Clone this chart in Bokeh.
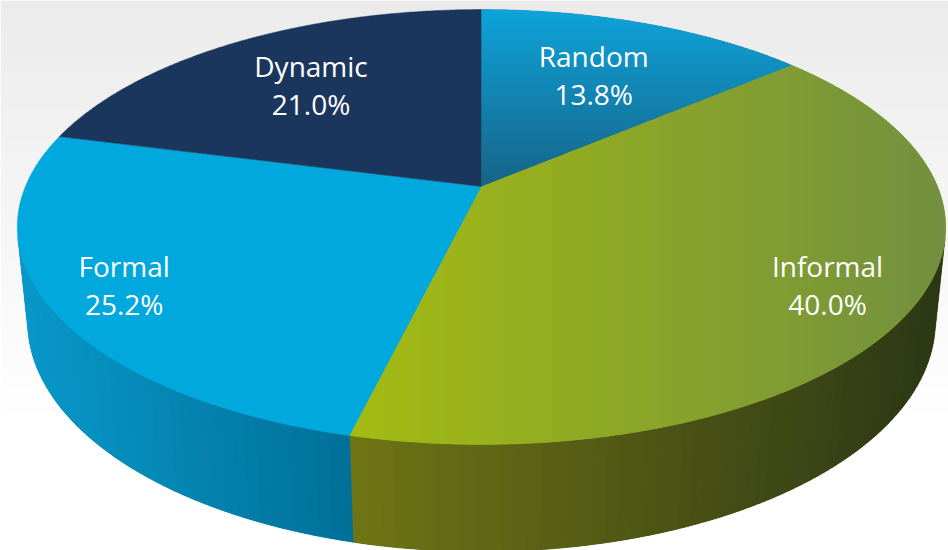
import numpy as np
from bokeh.plotting import figure
from bokeh.models import Range1d, ColumnDataSource
from bokeh.embed import file_html
from bokeh.resources import INLINE
from bokeh.core.properties import value

# ---------------- data ----------------
categories = ["Random", "Informal", "Formal", "Dynamic"]
shares = [13.8, 40.0, 25.2, 21.0]
pct_labels = ["13.8%", "40.0%", "25.2%", "21.0%"]

# ---------------- style ----------------
top_colors = {  # (start, end, direction) of each slice's top face
    "Random": ("#0ea3da", "#176487", "y"),
    "Informal": ("#a4bb12", "#72903f", "x"),
    "Formal": ("#00a8dd", "#00a8dd", None),
    "Dynamic": ("#1b365d", "#1b365d", None),
}
side_colors = {
    "Random": ("#0b86b4", "#0b5f82"),
    "Informal": ("#6f7414", "#2c3716"),
    "Formal": ("#0898ca", "#006f97"),
    "Dynamic": ("#152b4a", "#10223a"),
}
label_radius = [0.65, 0.82, 0.84, 0.67]

W, H = 948, 550
CX, CY = 481.0, 186.0
FOCX, FOCY, DIST, TILT, THICK = 2180.0, 2210.0, 4.78, np.radians(27.0), 0.231
S, C = np.sin(TILT), np.cos(TILT)


def proj(theta, r=1.0, z=0.0):
    X = r * np.sin(theta)
    Y = r * np.cos(theta)
    dy = Y + DIST * C
    dz = z - DIST * S
    depth = dy * C - dz * S
    up = dy * S + dz * C
    return CX + FOCX * X / depth, CY - FOCY * up / depth


def hex2rgb(h):
    h = h.lstrip("#")
    return np.array([int(h[i:i + 2], 16) for i in (0, 2, 4)], dtype=float)


def lerp(c1, c2, t):
    t = min(max(t, 0.0), 1.0)
    a, b = hex2rgb(c1), hex2rgb(c2)
    v = a + (b - a) * t
    return "#%02x%02x%02x" % tuple(int(round(x)) for x in v)


def clip_half(poly, axis, bound, keep_greater):
    out = []
    n = len(poly)
    for i in range(n):
        a, b = poly[i], poly[(i + 1) % n]
        ina = a[axis] >= bound if keep_greater else a[axis] <= bound
        inb = b[axis] >= bound if keep_greater else b[axis] <= bound
        if ina:
            out.append(a)
        if ina != inb:
            t = (bound - a[axis]) / (b[axis] - a[axis])
            out.append((a[0] + t * (b[0] - a[0]), a[1] + t * (b[1] - a[1])))
    return out


p = figure(width=W, height=H, x_range=Range1d(0, W), y_range=Range1d(H, 0),
           output_backend="svg", toolbar_location=None, min_border=0,
           x_axis_location=None, y_axis_location=None)
p.grid.visible = False
p.outline_line_color = None
p.background_fill_color = "#ffffff"
p.border_fill_color = "#ffffff"

# background soft grey fade
bg_top, bg_bot, bg_cols = [], [], []
nb = 40
for i in range(nb):
    y0 = H * i / nb
    y1 = H * (i + 1) / nb
    bg_top.append(y0)
    bg_bot.append(y1 + 0.5)
    bg_cols.append(lerp("#ebebeb", "#ffffff", (y0 + y1) / 2 / 420))
p.quad(left=0, right=W, top=bg_top, bottom=bg_bot, fill_color=bg_cols, line_color=None)

# slice angles (clockwise from 12 o'clock)
total = float(sum(shares))
bounds = np.concatenate([[0.0], np.cumsum(shares) / total * 2 * np.pi])

# ---------------- side walls ----------------
base_xs, base_ys, base_cols = [], [], []
wall_xs, wall_ys, wall_cols = [], [], []
limit = np.arccos(-1.0 / (DIST * C))  # visible wall: theta in (limit, 2pi - limit)
for k, cat in enumerate(categories):
    a0 = max(bounds[k], limit)
    a1 = min(bounds[k + 1], 2 * np.pi - limit)
    if a1 <= a0:
        continue
    nseg = max(int((a1 - a0) / (2 * np.pi) * 260), 2)
    tt = np.linspace(a0, a1, nseg + 1)
    tx, ty = proj(tt)
    bx, by = proj(tt, z=-THICK)
    xmin, xmax = tx.min(), tx.max()
    c0, c1 = side_colors[cat]
    base_xs.append(list(tx) + list(bx[::-1]))
    base_ys.append(list(ty) + list(by[::-1]))
    base_cols.append(lerp(c0, c1, 0.5))
    dt = tt[1] - tt[0]
    for i in range(nseg):
        t0 = max(tt[i] - 0.35 * dt, a0)
        t1 = min(tt[i + 1] + 0.35 * dt, a1)
        x0, y0 = proj(t0)
        x1, y1 = proj(t1)
        x2, y2 = proj(t1, z=-THICK)
        x3, y3 = proj(t0, z=-THICK)
        wall_xs.append([x0, x1, x2, x3])
        wall_ys.append([y0, y1, y2, y3])
        xm = (x0 + x1) / 2
        wall_cols.append(lerp(c0, c1, (xm - xmin) / max(xmax - xmin, 1)))
p.patches(base_xs, base_ys, fill_color=base_cols, line_color=base_cols, line_width=0.5)
p.patches(wall_xs, wall_ys, fill_color=wall_cols, line_color=None)

# ---------------- top faces ----------------
flat_xs, flat_ys, flat_cols = [], [], []
top_xs, top_ys, top_cols = [], [], []
for k, cat in enumerate(categories):
    a0, a1 = bounds[k], bounds[k + 1]
    tt = np.linspace(a0, a1, max(int((a1 - a0) / (2 * np.pi) * 720), 4))
    ax, ay = proj(tt)
    poly = [(CX, CY)] + list(zip(ax, ay))
    c0, c1, d = top_colors[cat]
    flat_xs.append([q[0] for q in poly])
    flat_ys.append([q[1] for q in poly])
    flat_cols.append(lerp(c0, c1, 0.5))
    if d is None:
        continue
    axis = 0 if d == "x" else 1
    vals = [q[axis] for q in poly]
    vmin, vmax = min(vals), max(vals)
    ns = 50
    step = (vmax - vmin) / ns
    for i in range(ns):
        lo = vmin + step * i - 0.5
        hi = vmin + step * (i + 1) + 0.5
        part = clip_half(poly, axis, lo, True)
        if len(part) < 3:
            continue
        part = clip_half(part, axis, hi, False)
        if len(part) < 3:
            continue
        top_xs.append([q[0] for q in part])
        top_ys.append([q[1] for q in part])
        top_cols.append(lerp(c0, c1, (i + 0.5) / ns))
p.patches(flat_xs, flat_ys, fill_color=flat_cols, line_color=flat_cols, line_width=0.5)
p.patches(top_xs, top_ys, fill_color=top_cols, line_color=None)

# ---------------- labels ----------------
mids = (bounds[:-1] + bounds[1:]) / 2
lx, ly = [], []
for m, r in zip(mids, label_radius):
    x, y = proj(m, r=r)
    lx.append(x)
    ly.append(y)
src = ColumnDataSource(dict(x=lx, y=ly, name=categories, pct=pct_labels))
common = dict(text_color="white", text_font=value("Open Sans"), text_font_size="28px",
              text_align="center", text_baseline="middle")
p.text(x="x", y="y", text="name", source=src, y_offset=-19, **common)
p.text(x="x", y="y", text="pct", source=src, y_offset=19, **common)

open("out.html", "w").write(file_html(p, INLINE))
